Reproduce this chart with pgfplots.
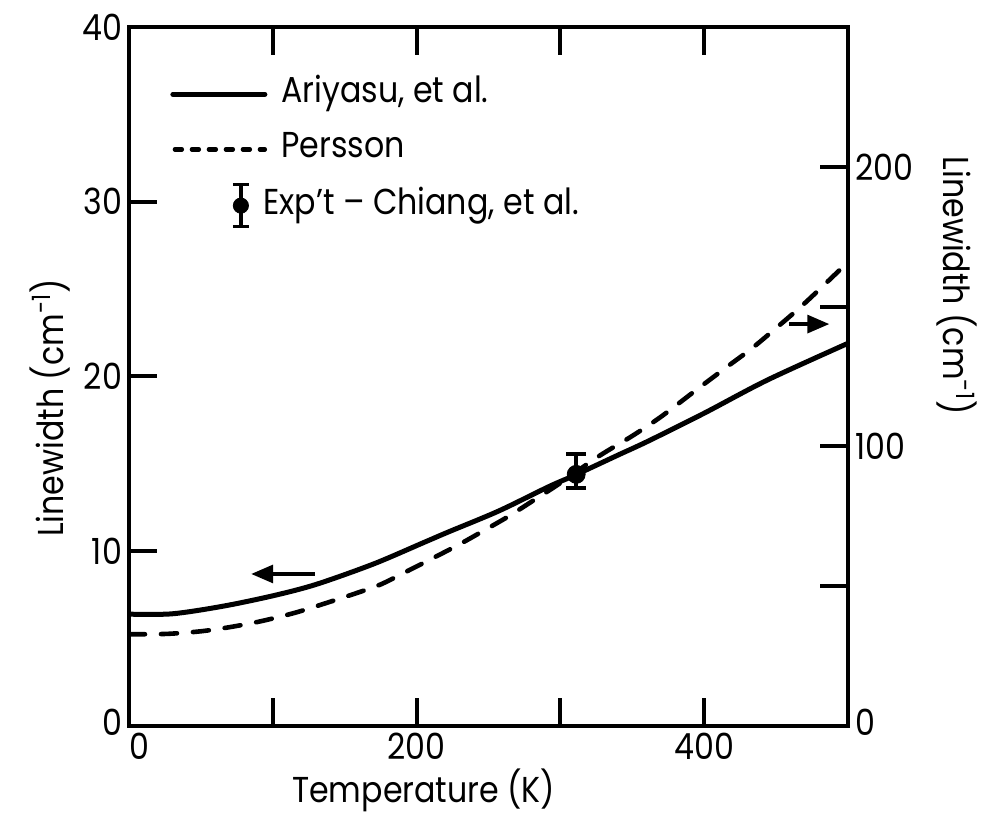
\documentclass[border=0pt]{standalone}
\usepackage{fontspec}
\setmainfont{Poppins}[FakeStretch=0.88]
\usepackage{pgfplots}
\usepackage{pgfplotstable}
\pgfplotsset{compat=1.18}
\usetikzlibrary{arrows.meta}

\pgfplotstableread{
T W
0 6.40
30 6.42
65 6.85
100 7.45
130 8.10
170 9.27
205 10.50
222 11.10
257 12.30
292 13.70
310 14.35
340 15.50
361 16.30
400 17.90
444 19.80
500 21.90
}\ariyasu

\pgfplotstableread{
T W
0 5.25
26 5.27
50 5.42
71 5.67
92 6.00
115 6.47
135 6.98
158 7.60
175 8.10
194 8.88
210 9.55
229 10.36
245 11.10
264 12.00
283 13.00
299 13.85
326 15.40
350 16.60
370 17.70
394 19.20
415 20.50
433 21.60
449 22.70
470 24.20
500 26.55
}\persson

\begin{document}
\begin{tikzpicture}
\path (-64.5pt,-52pt) rectangle (430.5pt,363pt);
\begin{axis}[
  at={(0pt,0pt)}, anchor=origin,
  scale only axis, width=359.5pt, height=349.5pt,
  xmin=0, xmax=500, ymin=0, ymax=40,
  axis line style={line width=2pt},
  every tick/.style={line width=2pt, black},
  major tick length=14pt,
  tick align=inside,
  xtick={0,100,...,500}, xticklabels={\hspace*{10pt}0,,200,,400,},
  ytick={0,10,...,40}, yticklabels={\raisebox{4pt}{0},10,20,30,40},
  ytick pos=left,
  xtick pos=both, xticklabel pos=bottom,
  tick label style={font=\fontsize{18}{20}\selectfont},
  /pgf/number format/assume math mode=true,
  xlabel={Temperature (K)},
  ylabel={Linewidth (cm\textsuperscript{-1})},
  every axis x label/.style={at={(axis description cs:0.41,-0.092)}, anchor=center, font=\fontsize{18}{20}\selectfont},
  every axis y label/.style={at={(axis description cs:-0.11,0.455)}, anchor=center, rotate=90, font=\fontsize{18}{20}\selectfont},
  legend style={at={(axis cs:28.5,37.4)}, anchor=north west, draw=none, fill=none, inner sep=0pt,
    row sep=6pt, font=\fontsize{18}{20}\selectfont,
    nodes={inner sep=2pt, text height=13pt, text depth=4.5pt},
    /tikz/every odd column/.append style={column sep=5pt}},
  legend cell align=left,
]
\addplot[black, line width=2.5pt, line cap=round, smooth,
  legend image code/.code={\draw[line width=2.5pt] (0pt,0pt) -- (46pt,0pt);}]
  table[x=T, y=W] {\ariyasu};
\addlegendentry{Ariyasu, et al.}
\addplot[black, line width=2.3pt, line cap=round, smooth, dash pattern=on 8pt off 8pt,
  legend image code/.code={\draw[line width=2.2pt, line cap=round, dash pattern=on 3.5pt off 5pt] (1pt,0pt) -- (46pt,0pt);}]
  table[x=T, y=W] {\persson};
\addlegendentry{Persson}
\addplot[black, only marks, mark=*, mark size=4.5pt, forget plot,
  error bars/.cd, y dir=both, y explicit,
  error bar style={line width=2pt},
  error mark options={rotate=90, mark size=5pt, line width=2pt}]
  coordinates {(311,14.4) += (0,1.15) -= (0,0.8)};
\addlegendimage{legend image code/.code={
    \path[draw=none, fill=none] (0pt,0pt) -- (46pt,0pt);
    \draw[line width=1.8pt, solid] (34pt,-10.5pt) -- (34pt,10.5pt);
    \draw[line width=1.8pt, solid] (30pt,10.5pt) -- (38pt,10.5pt);
    \draw[line width=1.8pt, solid] (30pt,-10.5pt) -- (38pt,-10.5pt);
    \fill[black] (34pt,0pt) circle (3.8pt);}}
\addlegendentry{\hspace*{-9pt}Exp't -- Chiang, et al.}
\draw[line width=1.6pt, -{Triangle[length=11pt,width=9pt]}] (axis cs:129,8.7) -- (axis cs:85,8.7);
\draw[line width=1.6pt, -{Triangle[length=11pt,width=9pt]}] (axis cs:459,23.0) -- (axis cs:487,23.0);
\end{axis}
\begin{axis}[
  at={(0pt,0pt)}, anchor=origin,
  scale only axis, width=359.5pt, height=349.5pt,
  xmin=0, xmax=500, ymin=0, ymax=250,
  axis x line=none, axis y line*=right,
  axis line style={line width=2pt, -},
  every tick/.style={line width=2pt, black},
  major tick length=14pt,
  tick align=inside,
  ytick={0,50,...,200}, yticklabels={\raisebox{4pt}{0},,100,,200},
  tick label style={font=\fontsize{18}{20}\selectfont},
  ylabel={Linewidth (cm\textsuperscript{-1})},
  every axis y label/.style={at={(axis description cs:1.152,0.63)}, anchor=center, rotate=-90, font=\fontsize{18}{20}\selectfont},
]
\end{axis}
\end{tikzpicture}
\end{document}
